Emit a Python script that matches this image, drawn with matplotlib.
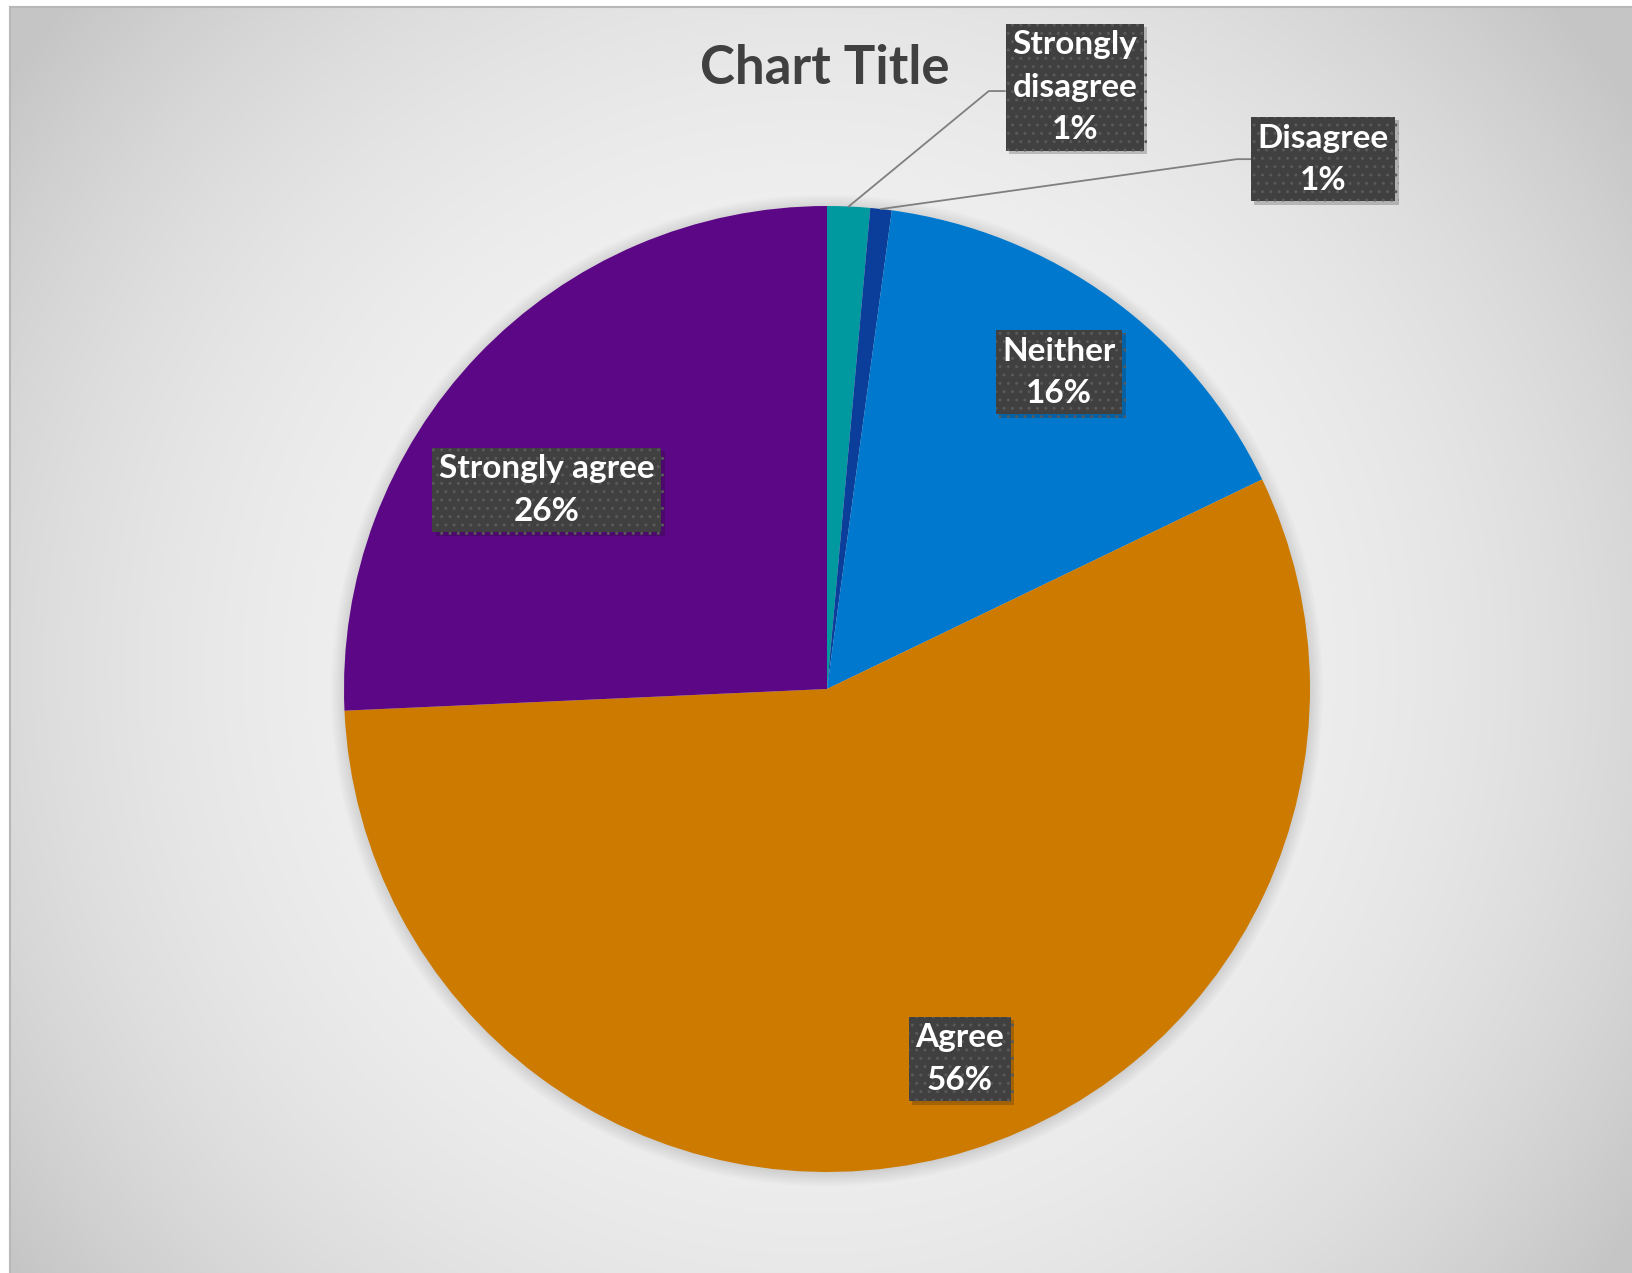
import numpy as np
import matplotlib.pyplot as plt
from matplotlib import patheffects as pe
from matplotlib.patches import Circle

# survey responses
categories = ['Strongly disagree', 'Disagree', 'Neither', 'Agree', 'Strongly agree']
label_text = ['Strongly\ndisagree', 'Disagree', 'Neither', 'Agree', 'Strongly agree']
responses = [2, 1, 22, 79, 36]
colors = ['#0099A0', '#0B3D9A', '#0078CE', '#CC7A00', '#5C0786']

# label box centres in pie units (radius = 1)
label_pos = [(0.513, 1.246), (1.027, 1.097), (0.48, 0.656),
             (0.275, -0.766), (-0.58, 0.412)]
# left edge of boxes that sit outside the pie and need a leader line
leader_end = {0: (0.368, 1.238), 1: (0.882, 1.097)}

W, H = 1633, 1273
fig = plt.figure(figsize=(W / 100, H / 100), dpi=100)
fig.patch.set_facecolor('white')

# ---- chart area with radial gradient fill ----
bw, bh = W - 10, H - 7
bg = fig.add_axes([10 / W, 0, bw / W, bh / H])
yy, xx = np.mgrid[0:bh, 0:bw]
d = np.sqrt(((xx - 800) / 1000.0) ** 2 + ((yy - 660) / 1000.0) ** 2)
shade = (245 - 48 * np.clip(d, 0, 1) ** 2.6) / 255.0
bg.imshow(np.dstack([shade] * 3), aspect='auto', interpolation='bilinear')
bg.set_xticks([])
bg.set_yticks([])
for side in ['right', 'bottom']:
    bg.spines[side].set_visible(False)
for side in ['top', 'left']:
    bg.spines[side].set_color('#b8b8b8')
    bg.spines[side].set_linewidth(1.5)

# ---- pie ----
cx, cy, r = 827, 689, 483
ax = fig.add_axes([(cx - r) / W, (H - cy - r) / H, 2 * r / W, 2 * r / H])
ax.set_facecolor('none')

# soft shadow around the pie
for k in range(10):
    ax.add_patch(Circle((0.0, -0.003), 1 + 0.003 * k, color='black',
                        alpha=0.013, lw=0, zorder=0, clip_on=False))

wedges, _ = ax.pie(responses, colors=colors, startangle=90,
                   counterclock=False, wedgeprops=dict(linewidth=0))
ax.set_xlim(-1, 1)
ax.set_ylim(-1, 1)

total = sum(responses)
cum = np.cumsum([0] + responses) / total

for i, (txt, v) in enumerate(zip(label_text, responses)):
    pct = round(100 * v / total)
    x, y = label_pos[i]
    t = ax.text(x, y, f'{txt}\n{pct}%', ha='center', va='center',
                color='white', fontsize=24, fontweight='bold',
                family=['Lato', 'DejaVu Sans'], linespacing=1.55, zorder=5,
                bbox=dict(boxstyle='square,pad=0.2', facecolor='#404040',
                          edgecolor='#595959', linewidth=0, hatch='..'))
    t.get_bbox_patch().set_path_effects(
        [pe.SimplePatchShadow(offset=(2.5, -2.5), alpha=0.22), pe.Normal()])

    if i in leader_end:
        mid = 2 * np.pi * (cum[i] + cum[i + 1]) / 2
        px, py = np.sin(mid), np.cos(mid)
        lx, ly = leader_end[i]
        ax.plot([px, lx - 0.033, lx], [py, ly, ly], color='#7f7f7f',
                lw=1.3, zorder=4, clip_on=False)

fig.text(825 / W, 1 - 68 / H, 'Chart Title', ha='center', va='center',
         fontsize=38, fontweight='bold', color='#404040',
         family=['Lato', 'DejaVu Sans'])

fig.savefig('out.png', dpi=100)
